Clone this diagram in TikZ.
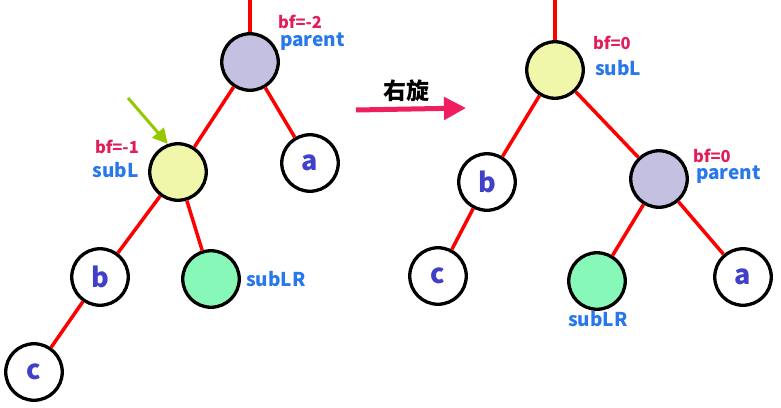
\documentclass[tikz,border=0pt]{standalone}
\usepackage{fontspec}
\setmainfont{Noto Sans CJK SC}
\newfontfamily\cjk{Noto Sans CJK SC}
\usetikzlibrary{arrows.meta}

\definecolor{parentfill}{RGB}{196,192,226}
\definecolor{sublfill}{RGB}{240,246,170}
\definecolor{sublrfill}{RGB}{136,248,184}
\definecolor{letterblue}{RGB}{64,64,200}
\definecolor{nameblue}{RGB}{40,120,235}
\definecolor{bfpink}{RGB}{225,30,90}
\definecolor{arrowpink}{RGB}{238,30,95}
\definecolor{pointgreen}{RGB}{150,200,0}

\tikzset{
  treenode/.style={circle, draw=black, line width=3.3pt, minimum size=56.5pt,
    inner sep=0pt, text=letterblue, font=\bfseries\fontsize{27}{27}\selectfont},
  branch/.style={red, line width=3.5pt},
  bflabel/.style={inner sep=0pt, text=bfpink, font=\bfseries\fontsize{16.5}{16.5}\selectfont},
  namelabel/.style={inner sep=0pt, text=nameblue, font=\bfseries\fontsize{19}{19}\selectfont},
}

\begin{document}
\begin{tikzpicture}[x=1pt, y=-1pt]
  \useasboundingbox (0,0) rectangle (781,407);

  % 旋转前
  \coordinate (topL) at (250,0);
  \node[treenode, fill=parentfill] (parentL) at (250,62) {};
  \node[treenode, fill=sublfill]   (subLL)   at (178,172) {};
  \node[treenode]                  (aL)      at (310,163) {a};
  \node[treenode]                  (bL)      at (100,277) {b};
  \node[treenode, fill=sublrfill]  (subLRL)  at (211,279) {};
  \node[treenode]                  (cL)      at (34,372) {c};

  \draw[branch] (topL) -- (parentL);
  \draw[branch] (parentL) -- (subLL);
  \draw[branch] (parentL) -- (aL);
  \draw[branch] (subLL) -- (bL);
  \draw[branch] (subLL) -- (subLRL);
  \draw[branch] (bL) -- (cL);

  % ラベル
  \node[bflabel, anchor=west]   (bfparentL) at (278,22) {bf=-2};
  \node[namelabel, anchor=west] (nparentL)  at (280,42) {parent};
  \node[bflabel, anchor=east]   (bfsubLL)   at (139,147) {bf=-1};
  \node[namelabel, anchor=east] (nsubLL)    at (139,170) {subL};
  \node[namelabel, anchor=west] (nsubLRL)   at (246,279) {subLR};

  % 指示矢印
  \coordinate (pointfrom) at (128,98);
  \draw[pointgreen, line width=3pt, -{Triangle[length=15pt, width=15pt]}] (pointfrom) -- (subLL.110);

  % 右旋
  \coordinate (rotfrom) at (356,110);
  \coordinate (rotto) at (466,108);
  \draw[arrowpink, line width=5pt, -{Triangle[length=22pt, width=22pt]}] (rotfrom) -- (rotto);
  \node[font=\cjk\bfseries\fontsize{23}{23}\selectfont] (rotlabel) at (406,91) {右旋};

  % 旋转后
  \coordinate (topR) at (555,0);
  \node[treenode, fill=sublfill]   (subLR)    at (555,70) {};
  \node[treenode]                  (bR)       at (487,182) {b};
  \node[treenode, fill=parentfill] (parentR)  at (659,179) {};
  \node[treenode]                  (cR)       at (438,276) {c};
  \node[treenode, fill=sublrfill]  (subLRR)   at (597,281) {};
  \node[treenode]                  (aR)       at (743,277) {a};

  \draw[branch] (topR) -- (subLR);
  \draw[branch] (subLR) -- (bR);
  \draw[branch] (subLR) -- (parentR);
  \draw[branch] (bR) -- (cR);
  \draw[branch] (parentR) -- (subLRR);
  \draw[branch] (parentR) -- (aR);

  % ラベル
  \node[bflabel, anchor=west]   (bfsubLR)   at (593,43) {bf=0};
  \node[namelabel, anchor=west] (nsubLR)    at (595,68) {subL};
  \node[bflabel, anchor=west]   (bfparentR) at (693,156) {bf=0};
  \node[namelabel, anchor=west] (nparentR)  at (696,175) {parent};
  \node[namelabel]              (nsubLRR)   at (598,319) {subLR};
\end{tikzpicture}
\end{document}
